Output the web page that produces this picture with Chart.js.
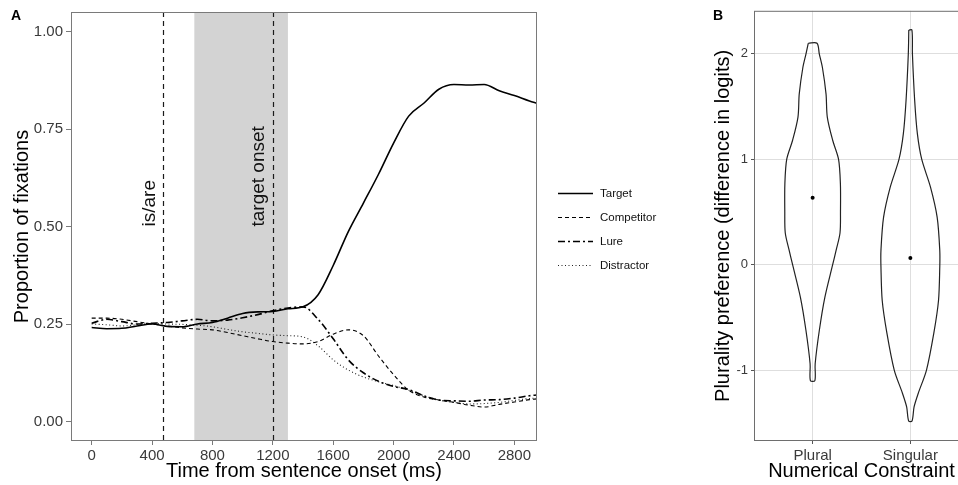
<!DOCTYPE html>
<html>
<head>
<meta charset="utf-8">
<script src="https://cdn.jsdelivr.net/npm/chart.js@4.4.1/dist/chart.umd.min.js"></script>
<style>
  html, body { margin: 0; padding: 0; background: #fff; overflow: hidden; }
  body { width: 958px; height: 485px; position: relative; }
  canvas { position: absolute; top: 0; }
  #chartA { left: 0; }
  #chartB { left: 700px; }
  .panel { position: absolute; font: bold 14px "Liberation Sans", Arial, sans-serif; line-height: 14px; color: #000; }
</style>
</head>
<body>
<canvas id="chartA" width="700" height="485"></canvas>
<canvas id="chartB" width="280" height="485"></canvas>
<div class="panel" style="left:11px;top:8px">A</div>
<div class="panel" style="left:713px;top:8px">B</div>
<script>
// ---- Panel A: fixation proportions over time ----
const times = [0, 100, 200, 300, 400, 500, 600, 700, 800, 900, 1000, 1100, 1200, 1300, 1400,
               1500, 1600, 1700, 1800, 1900, 2000, 2100, 2200, 2300, 2400, 2500, 2600, 2700, 2800, 2900, 2950];
const target = [0.241, 0.238, 0.239, 0.245, 0.250, 0.244, 0.243, 0.250, 0.254, 0.265, 0.277, 0.281, 0.282, 0.289, 0.294,
                0.325, 0.400, 0.487, 0.560, 0.634, 0.714, 0.783, 0.816, 0.852, 0.864, 0.863, 0.864, 0.848, 0.836, 0.822, 0.816];
const competitor = [0.265, 0.265, 0.262, 0.256, 0.250, 0.245, 0.240, 0.237, 0.235, 0.228, 0.220, 0.212, 0.205, 0.201, 0.199,
                    0.205, 0.224, 0.235, 0.220, 0.168, 0.120, 0.080, 0.063, 0.055, 0.049, 0.042, 0.037, 0.044, 0.050, 0.056, 0.058];
const lure = [0.252, 0.262, 0.256, 0.250, 0.252, 0.254, 0.258, 0.262, 0.258, 0.260, 0.266, 0.274, 0.284, 0.291, 0.294,
              0.262, 0.212, 0.158, 0.125, 0.103, 0.090, 0.082, 0.066, 0.055, 0.053, 0.052, 0.055, 0.056, 0.060, 0.066, 0.068];
const distractor = [0.250, 0.248, 0.245, 0.248, 0.251, 0.250, 0.249, 0.247, 0.243, 0.236, 0.230, 0.226, 0.222, 0.220, 0.217,
                    0.194, 0.158, 0.132, 0.114, 0.102, 0.092, 0.080, 0.066, 0.055, 0.049, 0.045, 0.046, 0.049, 0.054, 0.059, 0.060];
const seriesNames = ['Target', 'Competitor', 'Lure', 'Distractor'];
const xTicksA = [0, 400, 800, 1200, 1600, 2000, 2400, 2800];
const yTicksA = [0, 0.25, 0.5, 0.75, 1];
const markers = [475, 1200];
const markerLabels = ['is/are', 'target onset'];
const shadeWindow = [680, 1300];

// ---- Panel B: violin plots ----
const categories = ['Plural', 'Singular'];
const yTicksB = [-1, 0, 1, 2];
const pluralLevels = [2.10, 2.00, 1.87, 1.62, 1.40, 1.18, 1.00, 0.77, 0.50, 0.30, 0.135, 0.00, -0.31, -0.62, -0.94, -1.10];
const pluralWidth = [0.045, 0.068, 0.100, 0.137, 0.150, 0.205, 0.265, 0.284, 0.285, 0.280, 0.240, 0.205, 0.125, 0.069, 0.026, 0.023];
const singularLevels = [2.225, 2.00, 1.56, 1.24, 1.00, 0.735, 0.45, 0.135, -0.02, -0.34, -0.65, -1.00, -1.22, -1.35, -1.484];
const singularWidth = [0.016, 0.021, 0.044, 0.072, 0.116, 0.206, 0.274, 0.301, 0.301, 0.288, 0.240, 0.165, 0.081, 0.038, 0.017];
const means = [0.634, 0.063];

Chart.defaults.font.family = '"Liberation Sans", Arial, sans-serif';
Chart.defaults.color = '#333';

const FONT = '"Liberation Sans", Arial, sans-serif';

function toPoints(ys) {
    return times.map((t, i) => ({ x: t, y: ys[i] }));
}

// shaded window, dashed markers, rotated labels, frame and legend
const panelADecor = {
    id: 'panelADecor',
    beforeDatasetsDraw(chart) {
        const { ctx, chartArea: a, scales: { x, y } } = chart;
        ctx.save();
        const x0 = x.getPixelForValue(shadeWindow[0]);
        const x1 = x.getPixelForValue(shadeWindow[1]);
        ctx.fillStyle = '#d3d3d3';
        ctx.fillRect(x0, a.top, x1 - x0, a.bottom - a.top);

        ctx.strokeStyle = '#1a1a1a';
        ctx.lineWidth = 1.2;
        ctx.setLineDash([5, 4]);
        markers.forEach(m => {
            const px = Math.round(x.getPixelForValue(m)) + 0.5;
            ctx.beginPath();
            ctx.moveTo(px, a.top);
            ctx.lineTo(px, a.bottom);
            ctx.stroke();
        });
        ctx.setLineDash([]);

        ctx.font = '19px ' + FONT;
        ctx.fillStyle = '#111';
        ctx.textAlign = 'left';
        ctx.textBaseline = 'middle';
        markers.forEach((m, i) => {
            ctx.save();
            ctx.translate(x.getPixelForValue(m - 93), y.getPixelForValue(0.5));
            ctx.rotate(-Math.PI / 2);
            ctx.fillText(markerLabels[i], 0, 0);
            ctx.restore();
        });
        ctx.restore();
    },
    afterDraw(chart) {
        const { ctx, chartArea: a } = chart;
        ctx.save();
        ctx.strokeStyle = '#7a7a7a';
        ctx.lineWidth = 1;
        ctx.strokeRect(a.left + 0.5, a.top + 0.5, a.right - a.left - 1, a.bottom - a.top - 1);

        // legend
        const rowGap = 24.2;
        const cy = (a.top + a.bottom) / 2 + 2.5;
        ctx.font = '11.5px ' + FONT;
        ctx.fillStyle = '#111';
        ctx.textAlign = 'left';
        ctx.textBaseline = 'middle';
        chart.data.datasets.forEach((ds, i) => {
            const yy = Math.round(cy + (i - 1.5) * rowGap) + 0.5;
            ctx.strokeStyle = ds.borderColor;
            ctx.lineWidth = ds.borderWidth;
            ctx.setLineDash(ds.borderDash || []);
            ctx.beginPath();
            ctx.moveTo(a.right + 21, yy);
            ctx.lineTo(a.right + 56, yy);
            ctx.stroke();
            ctx.setLineDash([]);
            ctx.fillText(ds.label, a.right + 63, yy);
        });
        ctx.restore();
    }
};

new Chart(document.getElementById('chartA'), {
    type: 'line',
    data: {
        datasets: [
            { label: seriesNames[0], data: toPoints(target), borderColor: '#000', borderWidth: 1.6, borderDash: [] },
            { label: seriesNames[1], data: toPoints(competitor), borderColor: '#000', borderWidth: 1.1, borderDash: [4, 3] },
            { label: seriesNames[2], data: toPoints(lure), borderColor: '#000', borderWidth: 1.6, borderDash: [7, 3, 2, 3] },
            { label: seriesNames[3], data: toPoints(distractor), borderColor: '#222', borderWidth: 1.1, borderDash: [1, 2.5] }
        ]
    },
    options: {
        responsive: false,
        animation: false,
        events: [],
        layout: { padding: { left: 0, top: 10, right: 163, bottom: 0 } },
        elements: {
            point: { radius: 0 },
            line: { cubicInterpolationMode: 'monotone', fill: false }
        },
        plugins: { legend: { display: false }, tooltip: { enabled: false } },
        scales: {
            x: {
                type: 'linear',
                min: -137,
                max: 2950,
                afterFit: s => { s.height = 44; },
                afterBuildTicks: s => { s.ticks = xTicksA.map(v => ({ value: v })); },
                grid: { drawOnChartArea: false, drawTicks: true, tickLength: 4, color: '#7a7a7a' },
                border: { display: false },
                ticks: { font: { size: 15 }, color: '#3a3a3a', padding: 2, maxRotation: 0, autoSkip: false, callback: v => String(v) },
                title: { display: true, text: 'Time from sentence onset (ms)', font: { size: 20 }, color: '#000', padding: { top: 0, bottom: 2 } }
            },
            y: {
                type: 'linear',
                min: -0.05,
                max: 1.05,
                afterFit: s => { s.width = 71; },
                afterBuildTicks: s => { s.ticks = yTicksA.map(v => ({ value: v })); },
                grid: { drawOnChartArea: false, drawTicks: true, tickLength: 5, color: '#7a7a7a' },
                border: { display: false },
                ticks: { font: { size: 15 }, color: '#3a3a3a', padding: 3, autoSkip: false, callback: v => v.toFixed(2) },
                title: { display: true, text: 'Proportion of fixations', font: { size: 20 }, color: '#000', padding: { top: 10, bottom: 0 } }
            }
        }
    },
    plugins: [panelADecor]
});

// ---- Panel B ----
function violinOutline(pos, levels, widths) {
    const left = levels.map((y, i) => ({ x: pos - widths[i], y: y }));
    const right = levels.map((y, i) => ({ x: pos + widths[i], y: y })).reverse();
    return left.concat(right, [left[0]]);
}

const panelBFrame = {
    id: 'panelBFrame',
    afterDraw(chart) {
        const { ctx, chartArea: a } = chart;
        ctx.save();
        ctx.strokeStyle = '#6e6e6e';
        ctx.lineWidth = 1;
        ctx.strokeRect(a.left + 0.5, a.top + 0.5, a.right - a.left - 1, a.bottom - a.top - 1);
        ctx.restore();
    }
};

new Chart(document.getElementById('chartB'), {
    type: 'scatter',
    data: {
        datasets: [
            { label: categories[0], data: violinOutline(1, pluralLevels, pluralWidth), showLine: true, borderColor: '#222', borderWidth: 1.2, pointRadius: 0, tension: 0.3, fill: false },
            { label: categories[1], data: violinOutline(2, singularLevels, singularWidth), showLine: true, borderColor: '#222', borderWidth: 1.2, pointRadius: 0, tension: 0.3, fill: false },
            { label: 'mean', data: means.map((m, i) => ({ x: i + 1, y: m })), showLine: false, pointRadius: 2, backgroundColor: '#000', borderColor: '#000', borderWidth: 0 }
        ]
    },
    options: {
        responsive: false,
        animation: false,
        events: [],
        layout: { padding: { left: 0, top: 10, right: 11, bottom: 0 } },
        plugins: { legend: { display: false }, tooltip: { enabled: false } },
        scales: {
            x: {
                type: 'linear',
                min: 0.4,
                max: 2.6,
                afterFit: s => { s.height = 44; },
                afterBuildTicks: s => { s.ticks = categories.map((c, i) => ({ value: i + 1 })); },
                grid: { color: '#dedede', tickColor: '#555', drawTicks: true, tickLength: 3 },
                border: { display: false },
                ticks: { font: { size: 15 }, color: '#3a3a3a', padding: 3, maxRotation: 0, autoSkip: false, callback: v => categories[Math.round(v) - 1] },
                title: { display: true, text: 'Numerical Constraint', font: { size: 20 }, color: '#000', padding: { top: 0, bottom: 2 } }
            },
            y: {
                type: 'linear',
                min: -1.673,
                max: 2.408,
                afterFit: s => { s.width = 54; },
                afterBuildTicks: s => { s.ticks = yTicksB.map(v => ({ value: v })); },
                grid: { color: '#dedede', tickColor: '#555', drawTicks: true, tickLength: 3 },
                border: { display: false },
                ticks: { font: { size: 13 }, color: '#3a3a3a', padding: 3, autoSkip: false, callback: v => String(v) },
                title: { display: true, text: 'Plurality preference (difference in logits)', font: { size: 20 }, color: '#000', padding: { top: 11, bottom: 0 } }
            }
        }
    },
    plugins: [panelBFrame]
});
</script>
</body>
</html>
